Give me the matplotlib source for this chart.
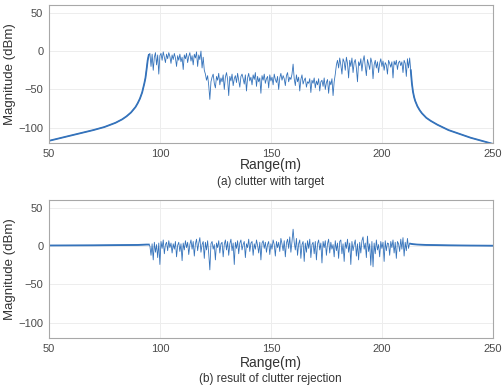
import numpy as np
import matplotlib
matplotlib.use('Agg')
import matplotlib.pyplot as plt

plt.rcParams['font.family'] = ['Liberation Sans', 'DejaVu Sans']

# --- data (range in m, magnitude in dBm) ---
# smooth skirts of the clutter-with-target trace
left_range = [50, 55, 60, 65, 70, 75, 80, 83, 85, 87, 89, 90, 91, 92, 92.5, 93, 93.5, 94, 94.5, 95]
left_mag = [-117, -113.5, -110, -106.5, -103, -99, -93.5, -89, -85, -80, -73, -68, -62, -54, -48, -42, -35, -24, -12, -5]
right_range = [213, 213.5, 214, 214.5, 215, 216, 217, 218, 220, 222, 225, 230, 235, 240, 245, 250]
right_mag = [-25, -42, -53, -60, -65, -72, -77, -81, -87, -91, -96, -103, -108, -113, -117, -121]

# noisy part, 0.5 m steps from 95.5 m to 212.5 m
noise_start, noise_end = 95.5, 212.5
target_mag = [
    -3, -20, -4, -25, -8, -2, -18, -5, -30, -6,
    -3, -12, -1, -8, -15, -4, -10, -2, -7, -16,
    -5, -11, -3, -9, -20, -6, -12, -4, -14, -8,
    -24, -5, -10, -3, -15, -7, -2, -13, -6, -18,
    -4, -9, -1, -20, -5, -11, 0, -22, -8, -25,
    -30, -38, -32, -45, -63, -40, -34, -30, -42, -48,
    -33, -38, -29, -44, -35, -40, -31, -50, -34, -28,
    -37, -58, -33, -39, -30, -45, -36, -32, -41, -29,
    -38, -47, -33, -30, -36, -43, -31, -52, -35, -29,
    -39, -34, -44, -31, -37, -28, -46, -33, -40, -35,
    -55, -32, -38, -30, -42, -36, -33, -48, -31, -39,
    -34, -44, -30, -37, -41, -33, -50, -35, -29, -38,
    -32, -36, -45, -32, -28, -40, -34, -37, -30, -17,
    -36, -45, -31, -40, -34, -52, -37, -31, -43, -38,
    -35, -47, -40, -42, -36, -54, -38, -42, -35, -48,
    -39, -44, -36, -52, -40, -38, -46, -35, -50, -41,
    -37, -55, -39, -44, -36, -58, -40, -30, -18, -12,
    -22, -9, -18, -30, -10, -14, -25, -8, -16, -35,
    -12, -20, -9, -28, -15, -11, -22, -40, -14, -19,
    -10, -26, -13, -6, -20, -32, -11, -17, -24, -9,
    -15, -36, -18, -12, -22, -14, -28, -16, -10, -20,
    -13, -25, -15, -18, -30, -12, -16, -21, -14, -35,
    -13, -18, -12, -24, -15, -13, -19, -14, -28, -12,
    -16, -33, -10, -22, -9,
]

# result after clutter rejection
rej_left_range = [50, 70, 90, 94, 95]
rej_left_mag = [0.8, 1.0, 1.5, 2.0, 2.0]
rej_right_range = [213, 214, 216, 220, 230, 240, 250]
rej_right_mag = [3, 2.5, 2, 1.5, 1, 0.7, 0.5]
rejected_mag = [
    0, -12, 3, -18, 5, -8, 2, -15, 4, -24,
    6, -3, 8, -10, 2, 5, -6, 7, -2, 4,
    -9, 3, -4, 6, -14, 1, 5, -7, 3, -19,
    4, -5, 7, -2, 5, -11, 2, 8, -4, 6,
    -13, 3, 9, -6, 4, 11, -8, 2, 6, -16,
    5, -5, 7, -10, -31, 3, 6, -4, 2, -18,
    4, -2, 7, -9, 3, 5, -14, 2, 8, -5,
    6, -12, 3, 9, -6, 4, -24, 5, -3, 7,
    -10, 4, 8, -5, 2, 6, -15, 3, -2, 9,
    -7, 4, 6, -12, 3, -4, 8, 1, -9, 5,
    -18, 4, 7, -3, 5, -8, 2, 6, -11, 3,
    -4, 8, 2, -13, 6, -2, 5, -7, 10, 3,
    -6, 7, -14, 4, 9, -3, 12, -8, 6, 22,
    5, -5, 10, -12, 3, 8, -16, 2, 6, -20,
    4, -8, 7, -3, 9, -15, 2, 5, -10, 6,
    -18, 3, 8, -5, 4, -22, 6, -2, 7, -12,
    3, 9, -9, 5, -4, 2, -14, 7, -6, 4,
    -16, 6, 8, -10, 3, -20, 5, -3, 9, -8,
    4, -24, 6, -6, 2, 8, -13, 3, -18, 5,
    -9, 7, 12, -4, 4, -15, 13, -7, 3, -25,
    6, -27, 4, -10, 8, -5, 2, -14, 6, -3,
    5, -20, 7, -6, 4, 3, -12, 6, -2, 8,
    -9, 5, -16, 6, 3, -7, 9, -4, 11, -13,
    5, -6, 10, -3, 4,
]

x_ticks = [50, 100, 150, 200, 250]
y_ticks = [-100, -50, 0, 50]
line_color = '#3573bb'


def build(l_r, l_m, noise, r_r, r_m):
    nx = np.linspace(noise_start, noise_end, len(noise))
    x = np.concatenate([l_r, nx, r_r])
    y = np.concatenate([l_m, noise, r_m])
    return x, y


fig = plt.figure(figsize=(5.04, 3.9), dpi=100)
ax1 = fig.add_axes([0.097, 0.633, 0.881, 0.354])
ax2 = fig.add_axes([0.097, 0.133, 0.881, 0.354])

series = [
    (ax1, build(left_range, left_mag, target_mag, right_range, right_mag), '(a) clutter with target', 0.577, 0.533),
    (ax2, build(rej_left_range, rej_left_mag, rejected_mag, rej_right_range, rej_right_mag), '(b) result of clutter rejection', 0.069, 0.027),
]

for ax, (x, y), caption, xl_y, cap_y in series:
    ax.plot(x, y, color=line_color, lw=0.6)
    # skirts look a bit heavier in the original
    ax.plot(x[x <= 95], y[x <= 95], color=line_color, lw=1.3)
    ax.plot(x[x >= 213], y[x >= 213], color=line_color, lw=1.3)
    ax.set_xlim(50, 250)
    ax.set_ylim(-120, 60)
    ax.set_xticks(x_ticks)
    ax.set_yticks(y_ticks)
    ax.grid(True, color='#ededed', lw=0.7)
    ax.set_axisbelow(True)
    for s in ax.spines.values():
        s.set_color('#a8a8a8')
        s.set_linewidth(0.8)
    ax.tick_params(length=0, labelsize=8, colors='#4a4a4a', pad=4)
    ax.set_ylabel('Magnitude (dBm)', fontsize=9.5, color='#333333', labelpad=2)
    fig.text(0.537, xl_y, 'Range(m)', ha='center', va='center', fontsize=10, color='#333333')
    fig.text(0.537, cap_y, caption, ha='center', va='center', fontsize=8.5, color='#333333')

fig.savefig('out.png', dpi=100)
